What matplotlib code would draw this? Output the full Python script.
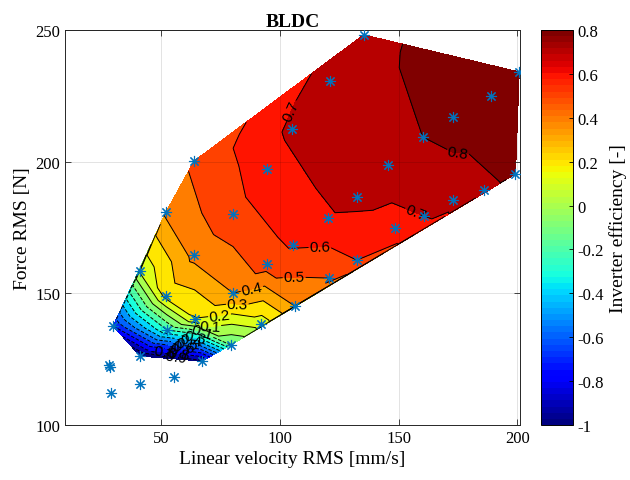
import numpy as np
import matplotlib.pyplot as plt
import matplotlib.tri as mtri
from matplotlib import colors, cm

plt.rcParams['font.family'] = ['Liberation Serif', 'DejaVu Serif']

# measured operating points (velocity RMS [mm/s], force RMS [N], inverter efficiency [-])
velocity = [135.3, 200.8, 121.0, 189.1, 172.7, 105.0, 160.1, 63.9, 94.5, 145.4,
            199.2, 186.1, 132.4, 173.1, 52.1, 80.3, 160.5, 148.3, 120.2, 105.5,
            63.9, 94.5, 132.4, 120.6, 41.2, 52.1, 80.3, 106.3, 64.3, 92.0,
            29.8, 52.5, 79.4, 67.2, 41.2, 28.2, 28.6, 41.2, 55.5, 29.0]
force = [248.1, 234.0, 230.6, 224.9, 217.0, 212.4, 209.4, 200.2, 197.2, 198.7,
         195.3, 189.2, 186.6, 185.4, 180.9, 180.1, 179.4, 174.8, 178.6, 168.3,
         164.5, 161.1, 162.6, 155.8, 158.5, 149.0, 150.1, 145.2, 140.2, 138.3,
         137.6, 136.1, 130.4, 124.3, 126.2, 122.7, 122.0, 115.6, 118.2, 112.1]
efficiency = [0.78, 0.86, 0.76, 0.85, 0.83, 0.72, 0.80, 0.52, 0.65, 0.76,
              0.83, 0.77, 0.73, 0.76, 0.42, 0.57, 0.70, 0.66, 0.69, 0.61,
              0.43, 0.55, 0.60, 0.50, 0.12, 0.24, 0.40, 0.40, 0.19, 0.14,
              -0.70, -0.20, -0.10, -0.92, -0.99, np.nan, np.nan, np.nan, np.nan, np.nan]

line_levels = np.round(np.arange(-10, 9) / 10, 1)
cmin, cmax = -1.0, 0.8

# where the contour labels sit (velocity, force)
label_spots = [(108, 218), (175, 205), (157, 180), (117, 166), (106, 155.5),
               (88.5, 150.5), (82, 145.2), (74.7, 141), (70.5, 137.2), (66.5, 135.3),
               (63.5, 133.5), (61.5, 132), (60, 130.8), (58.5, 129.6), (57.5, 128.5),
               (56.5, 127.5), (55.5, 126.5), (54.5, 125.8)]

vel = np.array(velocity)
frc = np.array(force)
eff = np.array(efficiency)
ok = ~np.isnan(eff)
tri = mtri.Triangulation(vel[ok], frc[ok])

jet = plt.get_cmap('jet', 64)
norm = colors.Normalize(cmin, cmax)
fill_levels = np.concatenate([[-2.0], line_levels, [2.0]])
band_colors = [jet(norm(max(l, cmin))) for l in fill_levels[:-1]]

fig = plt.figure(figsize=(6.3, 4.81), dpi=100)
ax = fig.add_axes([0.103, 0.114, 0.722, 0.822])
ax.set_xlim(9.5, 201)
ax.set_ylim(100, 250)

ax.tricontourf(tri, eff[ok], levels=fill_levels, colors=band_colors, zorder=1)
cs = ax.tricontour(tri, eff[ok], levels=line_levels, colors='k', linewidths=0.7, zorder=2)
labels = ax.clabel(cs, fmt='%g', fontsize=11, inline=True, inline_spacing=2,
                   manual=label_spots)
for t in labels:
    t.set_family(['Liberation Sans', 'DejaVu Sans'])

ax.plot(vel, frc, ls='none', marker=(8, 2, 0), ms=8, mec='#0072BD', mew=0.8, zorder=4)

ax.set_xticks([50, 100, 150, 200])
ax.set_yticks([100, 150, 200, 250])
ax.grid(True, color='k', alpha=0.13, lw=0.6, zorder=3)
ax.set_axisbelow(False)
ax.tick_params(direction='in', length=4, width=0.6, top=True, right=True,
               labelsize=12, colors='#262626', labelcolor='k')
for s in ax.spines.values():
    s.set_color('#262626')
    s.set_linewidth(0.7)

ax.set_xlabel('Linear velocity RMS [mm/s]', fontsize=14, labelpad=3)
ax.set_ylabel('Force RMS [N]', fontsize=14, labelpad=3)
ax.set_title('BLDC', fontsize=14, fontweight='bold', pad=3)

cax = fig.add_axes([0.859, 0.114, 0.05, 0.822])
sm = cm.ScalarMappable(norm=norm, cmap=jet)
cb = fig.colorbar(sm, cax=cax, ticks=np.round(np.arange(-5, 5) / 5, 1))
cb.ax.set_yticklabels(['%g' % t for t in np.round(np.arange(-5, 5) / 5, 1)])
cb.ax.tick_params(direction='in', length=3, width=0.6, labelsize=12)
cb.outline.set_linewidth(0.7)
cb.set_label('Inverter efficiency [-]', fontsize=14, labelpad=4)

fig.savefig('out.png', dpi=100)
